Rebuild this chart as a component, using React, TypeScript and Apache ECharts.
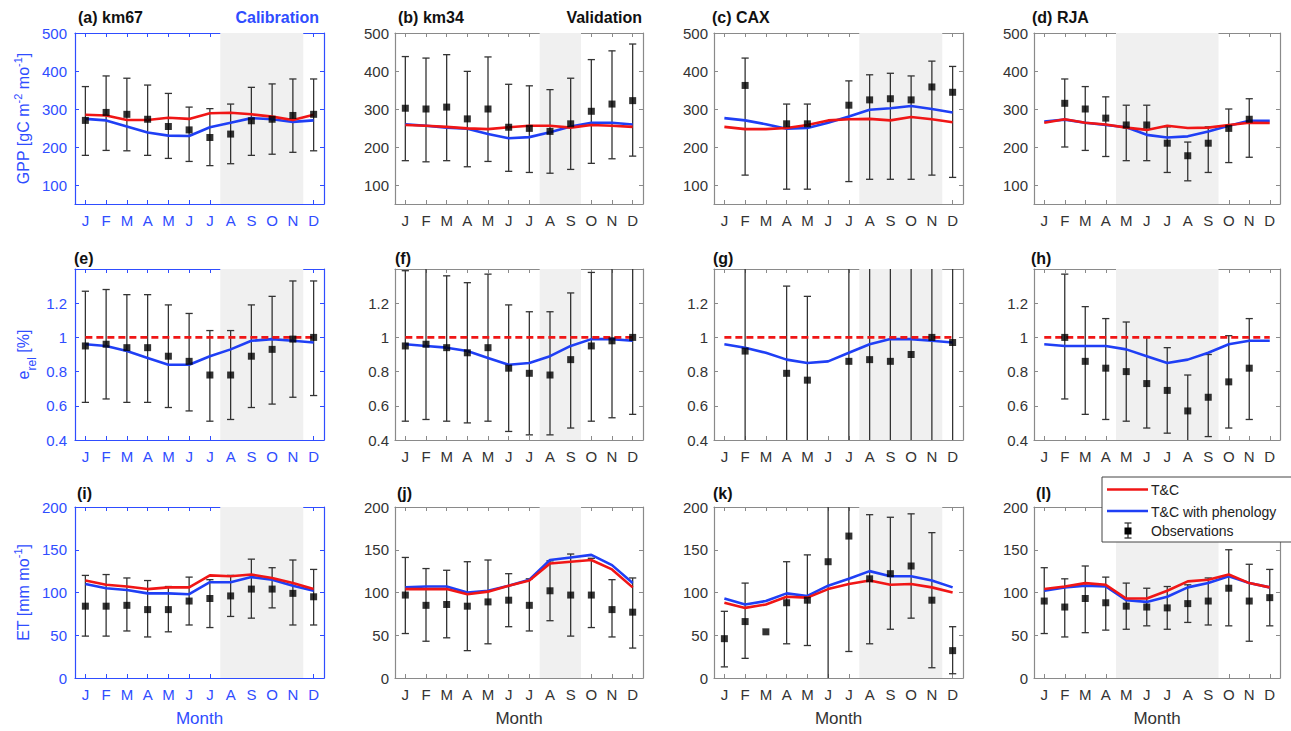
import React, { useEffect, useRef } from 'react';
import * as echarts from 'echarts';

// Month axis
const MONTH_LABELS = ['J', 'F', 'M', 'A', 'M', 'J', 'J', 'A', 'S', 'O', 'N', 'D'];
const MONTH_POS = [1, 2, 3, 4, 5, 6, 7, 8, 9, 10, 11, 12];

// Dry-season windows per site (band edges on the month axis)
const DRY_KM67 = [7.5, 11.5];
const DRY_KM34 = [7.5, 9.5];
const DRY_CAX = [7.5, 11.5];
const DRY_RJA = [4.5, 9.5];

// ---- GPP [gC m-2 mo-1] ----
const gppKm67Obs = [270, 291, 286, 273, 254, 245, 225, 234, 269, 273, 283, 286];
const gppKm67Hi = [359, 387, 381, 363, 341, 305, 301, 313, 357, 366, 379, 379];
const gppKm67Lo = [178, 191, 190, 178, 170, 162, 151, 156, 178, 181, 186, 190];
const gppKm67TC = [285, 283, 271, 271, 277, 274, 289, 290, 286, 280, 271, 285];
const gppKm67Phen = [274, 270, 254, 238, 230, 229, 252, 264, 276, 273, 266, 270];

const gppKm34Obs = [302, 300, 305, 274, 300, 252, 249, 241, 261, 294, 313, 322];
const gppKm34Hi = [438, 434, 443, 399, 437, 365, 361, 351, 381, 430, 453, 471];
const gppKm34Lo = [164, 161, 164, 148, 162, 136, 133, 131, 141, 157, 169, 176];
const gppKm34TC = [258, 256, 253, 249, 247, 252, 256, 256, 251, 258, 256, 253];
const gppKm34Phen = [260, 256, 251, 248, 234, 223, 226, 239, 254, 264, 264, 259];

const gppCaxObs = [null, 362, null, 261, 261, null, 310, 324, 327, 324, 358, 344];
const gppCaxHi = [null, 434, null, 313, 313, null, 374, 390, 394, 387, 426, 412];
const gppCaxLo = [null, 126, null, 89, 89, null, 109, 115, 115, 115, 126, 120];
const gppCaxTC = [253, 247, 247, 250, 258, 270, 273, 274, 270, 279, 273, 265];
const gppCaxPhen = [276, 270, 260, 248, 250, 264, 280, 298, 302, 308, 300, 291];

const gppRjaObs = [null, 315, 300, 276, 258, 258, 210, 177, 210, 249, 273, null];
const gppRjaHi = [null, 379, 359, 332, 310, 310, 253, 213, 253, 300, 327, null];
const gppRjaLo = [null, 200, 191, 175, 164, 164, 133, 111, 133, 159, 173, null];
const gppRjaTC = [264, 273, 264, 259, 251, 245, 256, 250, 251, 258, 264, 263];
const gppRjaPhen = [267, 272, 264, 258, 252, 232, 225, 228, 241, 256, 269, 269];

// ---- e_rel [%] ----
const eRelTC = [1, 1, 1, 1, 1, 1, 1, 1, 1, 1, 1, 1];

const eRelKm67Obs = [0.95, 0.96, 0.94, 0.94, 0.89, 0.86, 0.78, 0.78, 0.89, 0.93, 0.99, 1.0];
const eRelKm67Hi = [1.27, 1.28, 1.25, 1.25, 1.19, 1.14, 1.04, 1.04, 1.19, 1.24, 1.33, 1.33];
const eRelKm67Lo = [0.62, 0.64, 0.62, 0.62, 0.59, 0.57, 0.51, 0.52, 0.59, 0.61, 0.65, 0.66];
const eRelKm67Phen = [0.96, 0.95, 0.92, 0.88, 0.84, 0.84, 0.89, 0.93, 0.98, 0.99, 0.98, 0.97];

const eRelKm34Obs = [0.95, 0.96, 0.94, 0.91, 0.94, 0.82, 0.79, 0.78, 0.87, 0.95, 0.98, 1.0];
const eRelKm34Hi = [1.39, 1.5, 1.36, 1.32, 1.37, 1.19, 1.15, 1.15, 1.26, 1.38, 1.5, 1.5];
const eRelKm34Lo = [0.51, 0.52, 0.51, 0.5, 0.51, 0.45, 0.43, 0.43, 0.47, 0.51, 0.53, 0.55];
const eRelKm34Phen = [0.96, 0.95, 0.94, 0.92, 0.88, 0.84, 0.85, 0.89, 0.95, 0.99, 0.99, 0.98];

const eRelCaxObs = [null, 0.92, null, 0.79, 0.75, null, 0.86, 0.87, 0.86, 0.9, 1.0, 0.97];
const eRelCaxHi = [null, 1.6, null, 1.3, 1.24, null, 1.6, 1.6, 1.6, 1.6, 1.6, 1.6];
const eRelCaxLo = [null, 0.2, null, 0.2, 0.2, null, 0.2, 0.2, 0.2, 0.2, 0.2, 0.2];
const eRelCaxPhen = [0.96, 0.94, 0.91, 0.87, 0.85, 0.86, 0.91, 0.96, 0.99, 0.99, 0.98, 0.97];

const eRelRjaObs = [null, 1.0, 0.86, 0.82, 0.8, 0.73, 0.69, 0.57, 0.65, 0.74, 0.82, null];
const eRelRjaHi = [null, 1.37, 1.18, 1.11, 1.09, 1.0, 0.94, 0.78, 0.9, 1.01, 1.11, null];
const eRelRjaLo = [null, 0.64, 0.55, 0.52, 0.51, 0.47, 0.44, 0.3, 0.42, 0.47, 0.52, null];
const eRelRjaPhen = [0.96, 0.95, 0.95, 0.95, 0.93, 0.89, 0.85, 0.87, 0.91, 0.96, 0.98, 0.98];

// ---- ET [mm mo-1] ----
const etKm67Obs = [84, 84, 85, 80, 80, 90, 93, 96, 104, 104, 99, 95];
const etKm67Hi = [120, 121, 117, 114, 107, 118, 115, 120, 139, 129, 138, 127];
const etKm67Lo = [49, 49, 55, 48, 54, 62, 59, 72, 70, 82, 62, 62];
const etKm67TC = [114, 109, 107, 104, 106, 106, 120, 119, 121, 117, 111, 104];
const etKm67Phen = [110, 105, 103, 99, 99, 98, 112, 112, 118, 115, 108, 102];

const etKm34Obs = [97, 85, 86, 84, 89, 91, 85, 102, 97, 97, 80, 77];
const etKm34Hi = [141, 128, 126, 136, 138, 122, 116, 137, 145, 140, 115, 117];
const etKm34Lo = [52, 43, 47, 32, 40, 60, 55, 67, 49, 59, 48, 35];
const etKm34TC = [104, 104, 104, 98, 101, 108, 114, 134, 136, 138, 127, 106];
const etKm34Phen = [106, 107, 107, 100, 102, 108, 115, 138, 141, 144, 132, 111];

const etCaxObs = [46, 66, 54, 88, 91, 136, 166, 116, 122, 131, 91, 32];
const etCaxHi = [78, 111, null, 136, 144, 250, 250, 191, 188, 192, 170, 60];
const etCaxLo = [13, 23, null, 40, 38, -50, 31, 40, 57, 70, 12, 5];
const etCaxTC = [88, 82, 86, 95, 94, 104, 110, 114, 109, 110, 106, 100];
const etCaxPhen = [93, 86, 90, 99, 96, 108, 116, 125, 119, 119, 114, 106];

const etRjaObs = [90, 83, 93, 88, 84, 83, 82, 87, 90, 105, 90, 94];
const etRjaHi = [129, 116, 131, 118, 111, 105, 107, 109, 117, 150, 133, 127];
const etRjaLo = [52, 48, 53, 56, 57, 61, 57, 65, 62, 61, 43, 61];
const etRjaTC = [104, 107, 111, 109, 93, 93, 102, 113, 115, 121, 111, 106];
const etRjaPhen = [102, 106, 108, 107, 91, 89, 95, 106, 111, 119, 111, 106];

// Y-axis ranges and tick values per row
const ROW_Y = [
  { min: 50, max: 500, ticks: [100, 200, 300, 400, 500] },
  { min: 0.4, max: 1.4, ticks: [0.4, 0.6, 0.8, 1, 1.2] },
  { min: 0, max: 200, ticks: [0, 50, 100, 150, 200] },
];

const PANELS = [
  { label: '(a) km67', row: 0, col: 0, tx: 78, obs: gppKm67Obs, lo: gppKm67Lo, hi: gppKm67Hi, tc: gppKm67TC, phen: gppKm67Phen, dry: DRY_KM67 },
  { label: '(b) km34', row: 0, col: 1, tx: 398, obs: gppKm34Obs, lo: gppKm34Lo, hi: gppKm34Hi, tc: gppKm34TC, phen: gppKm34Phen, dry: DRY_KM34 },
  { label: '(c) CAX', row: 0, col: 2, tx: 712, obs: gppCaxObs, lo: gppCaxLo, hi: gppCaxHi, tc: gppCaxTC, phen: gppCaxPhen, dry: DRY_CAX },
  { label: '(d) RJA', row: 0, col: 3, tx: 1032, obs: gppRjaObs, lo: gppRjaLo, hi: gppRjaHi, tc: gppRjaTC, phen: gppRjaPhen, dry: DRY_RJA },
  { label: '(e)', row: 1, col: 0, tx: 74, obs: eRelKm67Obs, lo: eRelKm67Lo, hi: eRelKm67Hi, tc: eRelTC, phen: eRelKm67Phen, dry: DRY_KM67 },
  { label: '(f)', row: 1, col: 1, tx: 395, obs: eRelKm34Obs, lo: eRelKm34Lo, hi: eRelKm34Hi, tc: eRelTC, phen: eRelKm34Phen, dry: DRY_KM34 },
  { label: '(g)', row: 1, col: 2, tx: 713, obs: eRelCaxObs, lo: eRelCaxLo, hi: eRelCaxHi, tc: eRelTC, phen: eRelCaxPhen, dry: DRY_CAX },
  { label: '(h)', row: 1, col: 3, tx: 1031, obs: eRelRjaObs, lo: eRelRjaLo, hi: eRelRjaHi, tc: eRelTC, phen: eRelRjaPhen, dry: DRY_RJA },
  { label: '(i)', row: 2, col: 0, tx: 77, obs: etKm67Obs, lo: etKm67Lo, hi: etKm67Hi, tc: etKm67TC, phen: etKm67Phen, dry: DRY_KM67 },
  { label: '(j)', row: 2, col: 1, tx: 397, obs: etKm34Obs, lo: etKm34Lo, hi: etKm34Hi, tc: etKm34TC, phen: etKm34Phen, dry: DRY_KM34 },
  { label: '(k)', row: 2, col: 2, tx: 713, obs: etCaxObs, lo: etCaxLo, hi: etCaxHi, tc: etCaxTC, phen: etCaxPhen, dry: DRY_CAX },
  { label: '(l)', row: 2, col: 3, tx: 1036, obs: etRjaObs, lo: etRjaLo, hi: etRjaHi, tc: etRjaTC, phen: etRjaPhen, dry: DRY_RJA },
];

// Layout
const COL_LEFT = [75, 395, 714, 1034];
const COL_WIDTH = [249, 248, 249, 246];
const ROW_TOP = [33, 269, 507];
const ROW_HEIGHT = 171;
const TITLE_Y = [17, 258, 493];

// Colours
const AXIS_BLUE = '#2f4dff';
const AXIS_GREY = '#8a8a8a';
const LABEL_GREY = '#333333';
const RED = '#f01616';
const BLUE = '#1f3ff5';
const SHADE = '#f0f0f0';
const BAR = '#333333';
const FONT = '"Liberation Sans", Arial, Helvetica, sans-serif';

function pairs(values: (number | null)[]) {
  const out: number[][] = [];
  values.forEach((v, k) => {
    if (v !== null && v !== undefined) out.push([MONTH_POS[k], v]);
  });
  return out;
}

function bars(lo: (number | null)[], hi: (number | null)[]) {
  const out: number[][] = [];
  lo.forEach((v, k) => {
    const h = hi[k];
    if (v !== null && h !== null) out.push([MONTH_POS[k], v, h]);
  });
  return out;
}

function renderShade(params: any, api: any) {
  const cs = params.coordSys;
  const p0 = api.coord([api.value(0), 0]);
  const p1 = api.coord([api.value(1), 0]);
  return {
    type: 'rect',
    shape: { x: p0[0], y: cs.y, width: p1[0] - p0[0], height: cs.height },
    style: { fill: SHADE },
  };
}

function renderErrorBar(params: any, api: any) {
  const cs = params.coordSys;
  const x = api.value(0);
  const pLo = api.coord([x, api.value(1)]);
  const pHi = api.coord([x, api.value(2)]);
  const top = cs.y;
  const bottom = cs.y + cs.height;
  const cx = pHi[0];
  const capHi = pHi[1] >= top - 0.5;
  const capLo = pLo[1] <= bottom + 0.5;
  const y1 = Math.max(pHi[1], top);
  const y2 = Math.min(pLo[1], bottom);
  const style = { stroke: BAR, lineWidth: 1.3 };
  const w = 3.6;
  const children: any[] = [{ type: 'line', shape: { x1: cx, y1, x2: cx, y2 }, style }];
  if (capHi) children.push({ type: 'line', shape: { x1: cx - w, y1, x2: cx + w, y2: y1 }, style });
  if (capLo) children.push({ type: 'line', shape: { x1: cx - w, y1: y2, x2: cx + w, y2 }, style });
  return { type: 'group', children };
}

function buildOption() {
  const grid: any[] = [];
  const xAxis: any[] = [];
  const yAxis: any[] = [];
  const series: any[] = [];
  const graphic: any[] = [];

  PANELS.forEach((p, i) => {
    const left = COL_LEFT[p.col];
    const top = ROW_TOP[p.row];
    const width = COL_WIDTH[p.col];
    grid.push({ left, top, width, height: ROW_HEIGHT, outerBoundsMode: 'none' });

    const isBlue = p.col === 0;
    const axisColor = isBlue ? AXIS_BLUE : AXIS_GREY;
    const labelColor = isBlue ? AXIS_BLUE : LABEL_GREY;
    const ys = ROW_Y[p.row];

    const axisLine = { show: true, onZero: false, lineStyle: { color: axisColor, width: 1.2 } };
    const xTick = { show: true, inside: true, length: 4, customValues: MONTH_POS, lineStyle: { color: axisColor } };
    const yTick = { show: true, inside: true, length: 4, customValues: ys.ticks, lineStyle: { color: axisColor } };

    const xi = xAxis.length;
    xAxis.push({
      gridIndex: i, type: 'value', min: 0.5, max: 12.5, position: 'bottom',
      axisLine, axisTick: xTick, splitLine: { show: false },
      axisLabel: {
        show: true, customValues: MONTH_POS, color: labelColor, fontSize: 15, margin: 9, fontFamily: FONT,
        formatter: (v: number) => MONTH_LABELS[Math.round(v) - 1] || '',
      },
    });
    xAxis.push({
      gridIndex: i, type: 'value', min: 0.5, max: 12.5, position: 'top',
      axisLine, axisTick: xTick, splitLine: { show: false }, axisLabel: { show: false },
    });

    const yi = yAxis.length;
    yAxis.push({
      gridIndex: i, type: 'value', min: ys.min, max: ys.max, position: 'left',
      axisLine, axisTick: yTick, splitLine: { show: false },
      axisLabel: {
        show: true, customValues: ys.ticks, color: labelColor, fontSize: 15, margin: isBlue ? 8 : 6, fontFamily: FONT,
        formatter: (v: number) => String(Math.round(v * 10) / 10),
      },
    });
    yAxis.push({
      gridIndex: i, type: 'value', min: ys.min, max: ys.max, position: 'right',
      axisLine, axisTick: yTick, splitLine: { show: false }, axisLabel: { show: false },
    });

    // dry-season band
    series.push({
      type: 'custom', xAxisIndex: xi, yAxisIndex: yi, z: 1, silent: true,
      renderItem: renderShade, data: [[p.dry[0], p.dry[1]]],
    });
    // observation spread
    series.push({
      type: 'custom', xAxisIndex: xi, yAxisIndex: yi, z: 2, silent: true,
      renderItem: renderErrorBar, encode: { x: 0, y: [1, 2] }, data: bars(p.lo, p.hi),
    });
    // T&C with phenology
    series.push({
      type: 'line', name: 'T&C with phenology', xAxisIndex: xi, yAxisIndex: yi, z: 3, silent: true,
      symbol: 'none', data: pairs(p.phen), lineStyle: { color: BLUE, width: 2.6 },
    });
    // T&C
    series.push({
      type: 'line', name: 'T&C', xAxisIndex: xi, yAxisIndex: yi, z: 3, silent: true,
      symbol: 'none', data: pairs(p.tc),
      lineStyle: { color: RED, width: 2.6, type: p.row === 1 ? [7, 4] : 'solid' },
    });
    // observations
    series.push({
      type: 'scatter', name: 'Observations', xAxisIndex: xi, yAxisIndex: yi, z: 4, silent: true,
      symbol: 'rect', symbolSize: 7, itemStyle: { color: '#000' }, data: pairs(p.obs),
    });

    // panel label
    graphic.push({
      type: 'text', x: p.tx, y: TITLE_Y[p.row],
      style: { text: p.label, fontSize: 16, fontWeight: 'bold', fill: '#111', fontFamily: FONT, verticalAlign: 'middle', align: 'left' },
    });

    // x axis name on bottom row
    if (p.row === 2) {
      graphic.push({
        type: 'text', x: left + width / 2, y: 718,
        style: { text: 'Month', fontSize: 17, fill: isBlue ? AXIS_BLUE : LABEL_GREY, fontFamily: FONT, align: 'center', verticalAlign: 'middle' },
      });
    }
  });

  // run labels
  graphic.push({
    type: 'text', x: 319, y: 17,
    style: { text: 'Calibration', fontSize: 16, fontWeight: 'bold', fill: AXIS_BLUE, fontFamily: FONT, align: 'right', verticalAlign: 'middle' },
  });
  graphic.push({
    type: 'text', x: 642, y: 17,
    style: { text: 'Validation', fontSize: 16, fontWeight: 'bold', fill: '#111', fontFamily: FONT, align: 'right', verticalAlign: 'middle' },
  });

  // y axis names (first column)
  const yNames = [
    { y: ROW_TOP[0] + ROW_HEIGHT / 2, text: 'GPP [gC m{sup|-2} mo{sup|-1}]' },
    { y: ROW_TOP[1] + ROW_HEIGHT / 2, text: 'e{sub|rel} [%]' },
    { y: ROW_TOP[2] + ROW_HEIGHT / 2, text: 'ET [mm mo{sup|-1}]' },
  ];
  yNames.forEach((n) => {
    graphic.push({
      type: 'text', x: 23, y: n.y, rotation: Math.PI / 2,
      style: {
        text: n.text, fontSize: 16, fill: AXIS_BLUE, fontFamily: FONT, align: 'center', verticalAlign: 'middle',
        lineHeight: 22,
        rich: {
          sup: { fontSize: 11, fill: AXIS_BLUE, fontFamily: FONT, verticalAlign: 'top', lineHeight: 12 },
          sub: { fontSize: 12, fill: AXIS_BLUE, fontFamily: FONT, verticalAlign: 'bottom', lineHeight: 12, padding: [0, 0, -4, 0] },
        },
      },
    });
  });

  // legend (drawn above the panels)
  const lx = 1102;
  const ly = 477;
  const LZ = 100;
  const legendItems: any[] = [
    { type: 'rect', shape: { x: lx, y: ly, width: 192, height: 65 }, style: { fill: '#fff', stroke: '#444', lineWidth: 1 } },
    { type: 'line', shape: { x1: lx + 5, y1: ly + 12.5, x2: lx + 46, y2: ly + 12.5 }, style: { stroke: RED, lineWidth: 2.6 } },
    { type: 'text', x: lx + 49, y: ly + 13, style: { text: 'T&C', fontSize: 14, fill: '#222', fontFamily: FONT, verticalAlign: 'middle' } },
    { type: 'line', shape: { x1: lx + 5, y1: ly + 34, x2: lx + 46, y2: ly + 34 }, style: { stroke: BLUE, lineWidth: 2.6 } },
    { type: 'text', x: lx + 49, y: ly + 34.5, style: { text: 'T&C with phenology', fontSize: 14, fill: '#222', fontFamily: FONT, verticalAlign: 'middle' } },
    { type: 'line', shape: { x1: lx + 26, y1: ly + 46, x2: lx + 26, y2: ly + 61 }, style: { stroke: BAR, lineWidth: 1.3 } },
    { type: 'line', shape: { x1: lx + 22.5, y1: ly + 46, x2: lx + 29.5, y2: ly + 46 }, style: { stroke: BAR, lineWidth: 1.3 } },
    { type: 'line', shape: { x1: lx + 22.5, y1: ly + 61, x2: lx + 29.5, y2: ly + 61 }, style: { stroke: BAR, lineWidth: 1.3 } },
    { type: 'rect', shape: { x: lx + 22.5, y: ly + 50.5, width: 7, height: 7 }, style: { fill: '#000' } },
    { type: 'text', x: lx + 49, y: ly + 54, style: { text: 'Observations', fontSize: 14, fill: '#222', fontFamily: FONT, verticalAlign: 'middle' } },
  ];
  legendItems.forEach((el, k) => {
    graphic.push({ ...el, z: LZ + k, zlevel: 1 });
  });

  return {
    animation: false,
    backgroundColor: '#ffffff',
    textStyle: { fontFamily: FONT },
    grid, xAxis, yAxis, series, graphic,
  };
}

export default function App() {
  const ref = useRef<HTMLDivElement>(null);
  useEffect(() => {
    if (!ref.current) return;
    const chart = echarts.init(ref.current, null, { renderer: 'svg' });
    chart.setOption(buildOption() as any);
    return () => chart.dispose();
  }, []);
  return (
    <div
      ref={ref}
      style={{ position: 'absolute', left: 0, top: 0, width: 1291, height: 731, background: '#fff' }}
    />
  );
}
